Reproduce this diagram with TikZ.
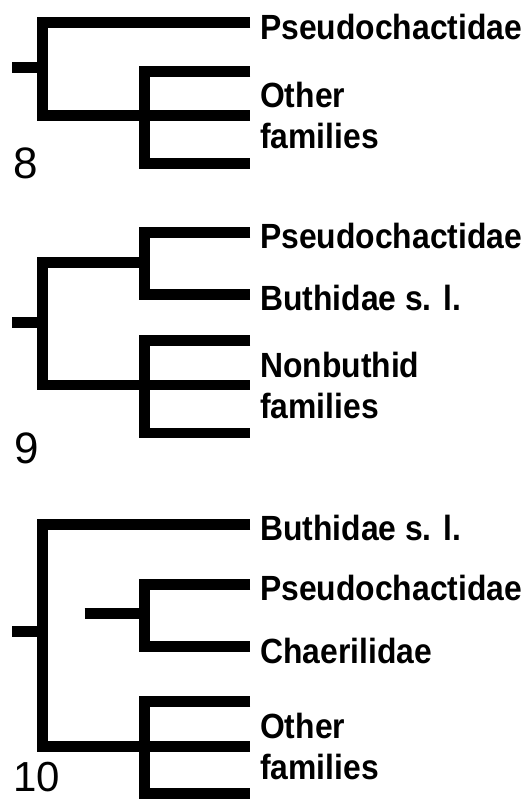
\documentclass[tikz,border=0pt]{standalone}
\usepackage{fontspec}
\usepackage{tikz}
\newfontfamily\taxonfont{Liberation Sans}[FakeStretch=0.91]
\newfontfamily\numfont{Liberation Sans}
\tikzset{
  branch/.style={line width=10.5pt, line cap=butt, line join=miter},
  taxon/.style={anchor=base west, inner sep=0pt, xshift=10pt, yshift=-16.5pt,
    font=\taxonfont\bfseries\fontsize{35}{41}\selectfont},
  taxontwo/.style={anchor=west, inner sep=0pt, xshift=10pt, align=left,
    font=\taxonfont\bfseries\fontsize{35}{41}\selectfont},
  treenum/.style={anchor=base west, inner sep=0pt, text depth=0pt,
    font=\numfont\fontsize{44}{50}\selectfont}
}
\begin{document}
\begin{tikzpicture}[x=1pt,y=-1pt]
\useasboundingbox (0,0) rectangle (525,801);

\coordinate (r8) at (12,67.7);
\coordinate (n8) at (42.3,67.7);
\coordinate (q8) at (144.3,115.7);
\coordinate (t8a) at (250,22.7);
\coordinate (t8b) at (250,71.3);
\coordinate (t8c) at (250,115.7);
\coordinate (t8d) at (250,163.7);
\draw[branch] (r8) -- (n8);
\draw[branch] (t8a) -| (q8 -| n8) -- (t8c);
\draw[branch] (t8b) -| (q8) |- (t8d);
\node[taxon] (l8a) at (t8a) {Pseudochactidae};
\node[taxontwo] (l8b) at (t8c) {Other\\families};
\node[treenum] (num8) at (13,178) {8};

\coordinate (r9) at (12,322.3);
\coordinate (n9) at (42.3,322.3);
\coordinate (p9) at (144.3,262.3);
\coordinate (q9) at (144.3,385);
\coordinate (t9a) at (250,232.3);
\coordinate (t9b) at (250,294.3);
\coordinate (t9c) at (250,340.3);
\coordinate (t9d) at (250,385);
\coordinate (t9e) at (250,433);
\draw[branch] (r9) -- (n9);
\draw[branch] (p9) -| (q9 -| n9) -- (t9d);
\draw[branch] (t9a) -| (p9) |- (t9b);
\draw[branch] (t9c) -| (q9) |- (t9e);
\node[taxon] (l9a) at (t9a) {Pseudochactidae};
\node[taxon] (l9b) at (t9b) {Buthidae s. l.};
\node[taxontwo] (l9c) at (t9d) {Nonbuthid\\families};
\node[treenum] (num9) at (14,463.5) {9};

\coordinate (r10) at (12,631.7);
\coordinate (n10) at (42.3,631.7);
\coordinate (s10) at (84.7,613.7);
\coordinate (p10) at (144.3,613.7);
\coordinate (q10) at (144.3,746.3);
\coordinate (t10a) at (250,524.3);
\coordinate (t10b) at (250,584.3);
\coordinate (t10c) at (250,646.7);
\coordinate (t10d) at (250,701.7);
\coordinate (t10e) at (250,746.3);
\coordinate (t10f) at (250,793.7);
\draw[branch] (r10) -- (n10);
\draw[branch] (t10a) -| (q10 -| n10) -- (t10e);
\draw[branch] (s10) -- (p10);
\draw[branch] (t10b) -| (p10) |- (t10c);
\draw[branch] (t10d) -| (q10) |- (t10f);
\node[taxon] (l10a) at (t10a) {Buthidae s. l.};
\node[taxon] (l10b) at (t10b) {Pseudochactidae};
\node[taxon] (l10c) at (t10c) {Chaerilidae};
\node[taxontwo] (l10d) at (t10e) {Other\\families};
\node[treenum, font=\numfont\fontsize{42}{48}\selectfont] (num10) at (13,791) {10};

\end{tikzpicture}
\end{document}
